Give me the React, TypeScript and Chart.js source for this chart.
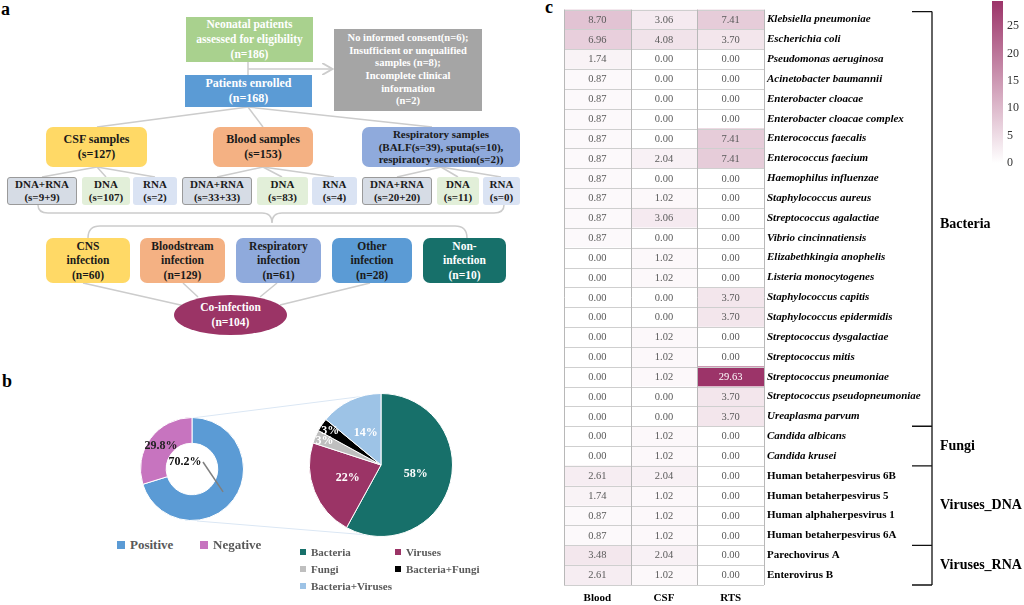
import React, { useEffect, useRef } from "react";
import { Chart, registerables } from "chart.js";
Chart.register(...registerables);

const FONT = "'Liberation Serif', 'Times New Roman', serif";

// ---------- Panel b data ----------
const donutLabels = ["Positive", "Negative"];
const donutValues = [70.2, 29.8];
const donutColors = ["#5b9bd5", "#c774bf"];

const pieLabels = ["Bacteria", "Viruses", "Fungi", "Bacteria+Fungi", "Bacteria+Viruses"];
const pieValues = [58, 22, 3, 3, 14];
const pieColors = ["#17706a", "#9b3466", "#bfbfbf", "#000000", "#9dc3e6"];

// ---------- Panel c data ----------
const organisms = [
  "Klebsiella pneumoniae",
  "Escherichia coli",
  "Pseudomonas aeruginosa",
  "Acinetobacter baumannii",
  "Enterobacter cloacae",
  "Enterobacter cloacae complex",
  "Enterococcus faecalis",
  "Enterococcus faecium",
  "Haemophilus influenzae",
  "Staphylococcus aureus",
  "Streptococcus agalactiae",
  "Vibrio cincinnatiensis",
  "Elizabethkingia anophelis",
  "Listeria monocytogenes",
  "Staphylococcus capitis",
  "Staphylococcus epidermidis",
  "Streptococcus dysgalactiae",
  "Streptococcus mitis",
  "Streptococcus pneumoniae",
  "Streptococcus pseudopneumoniae",
  "Ureaplasma parvum",
  "Candida albicans",
  "Candida krusei",
  "Human betaherpesvirus 6B",
  "Human betaherpesvirus 5",
  "Human alphaherpesvirus 1",
  "Human betaherpesvirus 6A",
  "Parechovirus A",
  "Enterovirus B",
];
const groupNames = ["Bacteria", "Fungi", "Viruses_DNA", "Viruses_RNA"];
const groupSizes = [21, 2, 4, 2];
const italicCount = 23;
const sampleTypes = ["Blood", "CSF", "RTS"];
const bloodValues = [8.7, 6.96, 1.74, 0.87, 0.87, 0.87, 0.87, 0.87, 0.87, 0.87, 0.87, 0.87, 0, 0, 0, 0, 0, 0, 0, 0, 0, 0, 0, 2.61, 1.74, 0.87, 0.87, 3.48, 2.61];
const csfValues = [3.06, 4.08, 0, 0, 0, 0, 0, 2.04, 0, 1.02, 3.06, 0, 1.02, 1.02, 0, 0, 1.02, 1.02, 1.02, 0, 0, 1.02, 1.02, 2.04, 1.02, 1.02, 1.02, 2.04, 1.02];
const rtsValues = [7.41, 3.7, 0, 0, 0, 0, 7.41, 7.41, 0, 0, 0, 0, 0, 0, 3.7, 3.7, 0, 0, 29.63, 3.7, 3.7, 0, 0, 0, 0, 0, 0, 0, 0];
const columns = [bloodValues, csfValues, rtsValues];
const colorbarTicks = [0, 5, 10, 15, 20, 25];
const colorMax = 29.63;
const HOT = [156, 52, 105];

function heatColor(v: number) {
  const t = Math.max(0, Math.min(1, v / colorMax));
  const c = [0, 1, 2].map((k) => Math.round(255 + (HOT[k] - 255) * t));
  return `rgb(${c[0]},${c[1]},${c[2]})`;
}

const heatPlugin = {
  id: "heatExtras",
  afterDraw(chart: any) {
    const ctx = chart.ctx as CanvasRenderingContext2D;
    const xs = chart.scales.x;
    const ys = chart.scales.y;
    const area = chart.chartArea;
    ctx.save();
    ctx.lineWidth = 1;
    ctx.strokeStyle = "#cfcfcf";
    for (let i = 0; i <= organisms.length; i++) {
      const y = Math.round(ys.getPixelForValue(i - 0.5)) + 0.5;
      ctx.beginPath();
      ctx.moveTo(area.left, y);
      ctx.lineTo(area.right, y);
      ctx.stroke();
    }
    ctx.strokeStyle = "#b8b8b8";
    for (let c = 0; c <= sampleTypes.length; c++) {
      const x = Math.round(xs.getPixelForValue(c)) + 0.5;
      ctx.beginPath();
      ctx.moveTo(x, ys.getPixelForValue(-0.5));
      ctx.lineTo(x, ys.getPixelForValue(organisms.length - 0.5));
      ctx.stroke();
    }
    ctx.font = `10.5px ${FONT}`;
    ctx.textAlign = "center";
    ctx.textBaseline = "middle";
    columns.forEach((vals, ci) => {
      const meta = chart.getDatasetMeta(ci);
      meta.data.forEach((bar: any, i: number) => {
        const v = vals[i];
        ctx.fillStyle = v > 20 ? "#ffffff" : "#5a5a5a";
        ctx.fillText(v.toFixed(2), (bar.x + bar.base) / 2, bar.y + 0.5);
      });
    });
    const bx = area.right + 168;
    ctx.strokeStyle = "#111";
    ctx.lineWidth = 1.3;
    let start = 0;
    const bounds: number[] = [ys.getPixelForValue(-0.5) + 2];
    groupSizes.forEach((n) => {
      start += n;
      bounds.push(ys.getPixelForValue(start - 0.5));
    });
    ctx.beginPath();
    ctx.moveTo(bx, bounds[0]);
    ctx.lineTo(bx, bounds[bounds.length - 1]);
    bounds.forEach((b) => {
      ctx.moveTo(bx - 20, b);
      ctx.lineTo(bx, b);
    });
    ctx.stroke();
    ctx.fillStyle = "#000";
    ctx.font = `bold 14px ${FONT}`;
    ctx.textAlign = "left";
    groupNames.forEach((g, gi) => {
      const mid = (bounds[gi] + bounds[gi + 1]) / 2 + (gi === 0 ? 5 : 0);
      ctx.fillText(g, bx + 8, mid);
    });
    const cbx = area.right + 228;
    const cbw = 11;
    const cbBottom = 163;
    const cbHeight = 162;
    const yOf = (v: number) => cbBottom - (v / colorMax) * cbHeight;
    const grad = ctx.createLinearGradient(0, cbBottom, 0, yOf(colorMax));
    grad.addColorStop(0, heatColor(0));
    grad.addColorStop(1, heatColor(colorMax));
    ctx.fillStyle = grad;
    ctx.fillRect(cbx, yOf(colorMax), cbw, cbHeight);
    ctx.fillStyle = "#333";
    ctx.font = `12px ${FONT}`;
    colorbarTicks.forEach((t) => ctx.fillText(String(t), cbx + 15, yOf(t)));
    ctx.restore();
  },
};

const donutLabelPlugin = {
  id: "donutLabels",
  afterDatasetsDraw(chart: any) {
    const ctx = chart.ctx as CanvasRenderingContext2D;
    const meta = chart.getDatasetMeta(0);
    ctx.save();
    ctx.font = `bold 12px ${FONT}`;
    ctx.textAlign = "center";
    ctx.textBaseline = "middle";
    meta.data.forEach((arc: any, i: number) => {
      const p = arc.tooltipPosition();
      const txt = donutValues[i].toFixed(1) + "%";
      if (i === 0) {
        const lx = arc.x - 7;
        const ly = arc.y - 7;
        ctx.strokeStyle = "#7f7f7f";
        ctx.lineWidth = 1.5;
        ctx.beginPath();
        ctx.moveTo(lx + 18, ly);
        ctx.lineTo(p.x, p.y);
        ctx.stroke();
        ctx.fillStyle = "#111";
        ctx.fillText(txt, lx, ly);
      } else {
        ctx.fillStyle = "#222";
        ctx.fillText(txt, p.x, p.y);
      }
    });
    ctx.restore();
  },
};

const pieLabelPlugin = {
  id: "pieLabels",
  afterDatasetsDraw(chart: any) {
    const ctx = chart.ctx as CanvasRenderingContext2D;
    const meta = chart.getDatasetMeta(0);
    ctx.save();
    ctx.font = `bold 12px ${FONT}`;
    ctx.textAlign = "center";
    ctx.textBaseline = "middle";
    ctx.fillStyle = "#fff";
    meta.data.forEach((arc: any, i: number) => {
      const mid = (arc.startAngle + arc.endAngle) / 2;
      const r = pieValues[i] < 5 ? arc.outerRadius * 0.86 : arc.outerRadius * 0.5;
      ctx.fillText(pieValues[i] + "%", arc.x + Math.cos(mid) * r, arc.y + Math.sin(mid) * r);
    });
    ctx.restore();
  },
};

function useChart(ref: React.RefObject<HTMLCanvasElement | null>, make: (c: HTMLCanvasElement) => Chart) {
  useEffect(() => {
    if (!ref.current) return;
    const ch = make(ref.current);
    return () => ch.destroy();
  }, []);
}

function Box(props: {
  x: number; y: number; w: number; h: number; bg: string; color?: string; fs?: number; lh?: number; r?: number | string; border?: string; lines: string[];
}) {
  const { x, y, w, h, bg, color = "#fff", fs = 11.5, lh = 14, r = 0, border, lines } = props;
  return (
    <div
      style={{
        position: "absolute", left: x, top: y, width: w, height: h, background: bg, color, borderRadius: r,
        border: border || "none", boxSizing: "border-box", display: "flex", alignItems: "center",
        justifyContent: "center", textAlign: "center", fontWeight: "bold", fontSize: fs,
        lineHeight: lh + "px", fontFamily: FONT, whiteSpace: "nowrap",
      }}
    >
      <div>{lines.map((l, i) => <div key={i}>{l}</div>)}</div>
    </div>
  );
}

function Legend(props: { x: number; y: number; color: string; text: string; fs: number; sq: number }) {
  const { x, y, color, text, fs, sq } = props;
  return (
    <div style={{ position: "absolute", left: x, top: y - 9, height: 18, display: "flex", alignItems: "center", fontFamily: FONT, fontWeight: "bold", fontSize: fs, color: "#595959", whiteSpace: "nowrap" }}>
      <span style={{ display: "inline-block", width: sq, height: sq, background: color, marginRight: 5 }} />
      {text}
    </div>
  );
}

export default function App() {
  const heatRef = useRef<HTMLCanvasElement>(null);
  const donutRef = useRef<HTMLCanvasElement>(null);
  const pieRef = useRef<HTMLCanvasElement>(null);

  useChart(heatRef, (c) =>
    new Chart(c, {
      type: "bar",
      data: {
        labels: organisms,
        datasets: sampleTypes.map((name, ci) => ({
          label: name,
          data: columns[ci].map(() => [ci, ci + 1] as [number, number]),
          backgroundColor: columns[ci].map(heatColor),
          borderWidth: 0,
          barPercentage: 1,
          categoryPercentage: 1,
          grouped: false,
        })),
      },
      options: {
        indexAxis: "y",
        animation: false,
        responsive: false,
        layout: { padding: { left: 4, top: 2, right: 92, bottom: 0 } },
        plugins: { legend: { display: false }, tooltip: { enabled: false } },
        scales: {
          x: {
            type: "linear", min: 0, max: 3, position: "bottom",
            grid: { display: false, drawTicks: false }, border: { display: false },
            afterBuildTicks: (ax: any) => { ax.ticks = sampleTypes.map((_, i) => ({ value: i + 0.5 })); },
            afterFit: (s: any) => { s.height = 20; },
            ticks: {
              autoSkip: false, maxRotation: 0, padding: 7, color: "#000",
              font: { family: FONT, size: 11, weight: "bold" },
              callback: (v: any) => sampleTypes[Math.floor(Number(v))],
            },
          },
          y: {
            position: "right",
            grid: { display: false, drawTicks: false }, border: { display: false },
            afterFit: (s: any) => { s.width = 168; },
            ticks: {
              autoSkip: false, padding: 3, color: "#000",
              font: (ctx: any) => ({ family: FONT, size: 11, weight: "bold", style: ctx.index < italicCount ? "italic" : "normal" }),
            },
          },
        },
      } as any,
      plugins: [heatPlugin],
    })
  );

  useChart(donutRef, (c) =>
    new Chart(c, {
      type: "doughnut",
      data: { labels: donutLabels, datasets: [{ data: donutValues, backgroundColor: donutColors, borderColor: "#fff", borderWidth: 1 }] },
      options: {
        animation: false, responsive: false, cutout: "50%",
        plugins: { legend: { display: false }, tooltip: { enabled: false } },
      },
      plugins: [donutLabelPlugin],
    })
  );

  useChart(pieRef, (c) =>
    new Chart(c, {
      type: "pie",
      data: { labels: pieLabels, datasets: [{ data: pieValues, backgroundColor: pieColors, borderColor: "#fff", borderWidth: 1 }] },
      options: {
        animation: false, responsive: false,
        plugins: { legend: { display: false }, tooltip: { enabled: false } },
      },
      plugins: [pieLabelPlugin],
    })
  );

  const dark = "#1a1a1a";
  const lineC = "#cccccc";
  const seg = (x1: number, y1: number, x2: number, y2: number, k: string) => (
    <line key={k} x1={x1} y1={y1} x2={x2} y2={y2} stroke={lineC} strokeWidth={1.5} />
  );

  return (
    <div style={{ position: "absolute", left: 0, top: 0, width: 1024, height: 605, background: "#fff", overflow: "hidden", fontFamily: FONT }}>
      <svg width={1024} height={605} style={{ position: "absolute", left: 0, top: 0 }}>
        <defs>
          <marker id="arr" markerWidth="8" markerHeight="8" refX="6" refY="4" orient="auto">
            <path d="M0,0 L7,4 L0,8" fill="none" stroke={lineC} strokeWidth="1.3" />
          </marker>
        </defs>
        {seg(248, 62, 248, 75, "g1")}
        <line x1={248} y1={69} x2={331} y2={69} stroke={lineC} strokeWidth={1.5} markerEnd="url(#arr)" />
        {seg(248, 107, 97, 127, "b1")}
        {seg(248, 107, 263, 127, "b2")}
        {seg(248, 107, 432, 127, "b3")}
        {seg(97, 167, 42, 177, "c1")}
        {seg(97, 167, 106, 177, "c2")}
        {seg(97, 167, 155, 177, "c3")}
        {seg(263, 167, 217, 177, "d1")}
        {seg(263, 167, 282, 177, "d2")}
        {seg(263, 167, 334, 177, "d3")}
        {seg(441, 167, 397, 177, "e1")}
        {seg(441, 167, 458, 177, "e2")}
        {seg(441, 167, 501, 177, "e3")}
        <path d="M38,205 Q38,213 48,213 L262,213 Q272,213 272,223 Q272,213 282,213 L494,213 Q504,213 504,205" fill="none" stroke={lineC} strokeWidth={1.5} />
        <path d="M88,238 Q88,226 100,226 L455,226 Q467,226 467,238" fill="none" stroke={lineC} strokeWidth={1.5} />
        {seg(83, 283, 185, 306, "f1")}
        {seg(183, 283, 198, 297, "f2")}
        {seg(277, 283, 260, 297, "f3")}
        {seg(370, 283, 280, 305, "f4")}
        <line x1={192} y1={418} x2={381} y2={394} stroke="#dbe7f4" strokeWidth={1} />
        <line x1={197} y1={521} x2={380} y2={536} stroke="#dbe7f4" strokeWidth={1} />
      </svg>

      <div style={{ position: "absolute", left: 1, top: -1, fontWeight: "bold", fontSize: 18 }}>a</div>
      <div style={{ position: "absolute", left: 2, top: 371, fontWeight: "bold", fontSize: 18 }}>b</div>
      <div style={{ position: "absolute", left: 545, top: -3, fontWeight: "bold", fontSize: 18 }}>c</div>

      <Box x={186} y={17} w={127} h={45} bg="#a9d18e" fs={11.5} lh={15} lines={["Neonatal patients", "assessed for eligibility", "(n=186)"]} />
      <Box x={334} y={29} w={148} h={82} bg="#a5a5a5" fs={10.5} lh={12.7} lines={["No informed consent(n=6);", "Insufficient or unqualified", "samples (n=8);", "Incomplete clinical", "information", "(n=2)"]} />
      <Box x={185} y={75} w={127} h={32} bg="#5b9bd5" fs={12} lh={15} lines={["Patients enrolled", "(n=168)"]} />
      <Box x={46} y={127} w={101} h={40} bg="#ffd966" color={dark} r={7} fs={12} lh={15} lines={["CSF samples", "(s=127)"]} />
      <Box x={213} y={127} w={100} h={40} bg="#f4b183" color={dark} r={7} fs={12} lh={15} lines={["Blood samples", "(s=153)"]} />
      <Box x={362} y={127} w={158} h={40} bg="#8faadc" color={dark} r={7} fs={11} lh={12.5} lines={["Respiratory samples", "(BALF(s=39), sputa(s=10),", "respiratory secretion(s=2))"]} />

      <Box x={7} y={177} w={70} h={28} bg="#d6dce5" color={dark} r={3} border="1px solid #9a9a9a" fs={11} lh={13.5} lines={["DNA+RNA", "(s=9+9)"]} />
      <Box x={82} y={177} w={48} h={28} bg="#e2efd9" color={dark} r={3} fs={11} lh={13.5} lines={["DNA", "(s=107)"]} />
      <Box x={133} y={177} w={44} h={28} bg="#dae3f3" color={dark} r={3} fs={11} lh={13.5} lines={["RNA", "(s=2)"]} />
      <Box x={182} y={177} w={70} h={28} bg="#d6dce5" color={dark} r={3} border="1px solid #9a9a9a" fs={11} lh={13.5} lines={["DNA+RNA", "(s=33+33)"]} />
      <Box x={257} y={177} w={51} h={28} bg="#e2efd9" color={dark} r={3} fs={11} lh={13.5} lines={["DNA", "(s=83)"]} />
      <Box x={312} y={177} w={45} h={28} bg="#dae3f3" color={dark} r={3} fs={11} lh={13.5} lines={["RNA", "(s=4)"]} />
      <Box x={362} y={177} w={70} h={28} bg="#d6dce5" color={dark} r={3} border="1px solid #9a9a9a" fs={11} lh={13.5} lines={["DNA+RNA", "(s=20+20)"]} />
      <Box x={437} y={177} w={42} h={28} bg="#e2efd9" color={dark} r={3} fs={11} lh={13.5} lines={["DNA", "(s=11)"]} />
      <Box x={483} y={177} w={37} h={28} bg="#dae3f3" color={dark} r={3} fs={11} lh={13.5} lines={["RNA", "(s=0)"]} />

      <Box x={46} y={238} w={84} h={45} bg="#ffd966" color={dark} r={7} fs={11.5} lh={14.5} lines={["CNS", "infection", "(n=60)"]} />
      <Box x={140} y={238} w={85} h={45} bg="#f4b183" color={dark} r={7} fs={11.5} lh={14.5} lines={["Bloodstream", "infection", "(n=129)"]} />
      <Box x={236} y={238} w={85} h={45} bg="#8faadc" color={dark} r={7} fs={11.5} lh={14.5} lines={["Respiratory", "infection", "(n=61)"]} />
      <Box x={332} y={238} w={80} h={45} bg="#5b9bd5" color={dark} r={7} fs={11.5} lh={14.5} lines={["Other", "infection", "(n=28)"]} />
      <Box x={423} y={238} w={83} h={45} bg="#17706a" color="#fff" r={7} fs={11.5} lh={14.5} lines={["Non-", "infection", "(n=10)"]} />
      <Box x={174} y={295} w={113} h={40} bg="#9b3466" color="#fff" r="50%" fs={11.5} lh={15} lines={["Co-infection", "(n=104)"]} />

      <canvas ref={donutRef} width={104} height={104} style={{ position: "absolute", left: 140, top: 417, width: 104, height: 104 }} />
      <canvas ref={pieRef} width={144} height={144} style={{ position: "absolute", left: 309, top: 393, width: 144, height: 144 }} />
      <Legend x={117} y={545} color={donutColors[0]} text={donutLabels[0]} fs={13} sq={8} />
      <Legend x={200} y={545} color={donutColors[1]} text={donutLabels[1]} fs={13} sq={8} />
      <Legend x={300} y={552} color={pieColors[0]} text={pieLabels[0]} fs={11} sq={6} />
      <Legend x={395} y={552} color={pieColors[1]} text={pieLabels[1]} fs={11} sq={6} />
      <Legend x={300} y={569} color={pieColors[2]} text={pieLabels[2]} fs={11} sq={6} />
      <Legend x={395} y={569} color={pieColors[3]} text={pieLabels[3]} fs={11} sq={6} />
      <Legend x={300} y={586} color={pieColors[4]} text={pieLabels[4]} fs={11} sq={6} />

      <canvas ref={heatRef} width={464} height={605} style={{ position: "absolute", left: 560, top: 0, width: 464, height: 605 }} />
    </div>
  );
}
